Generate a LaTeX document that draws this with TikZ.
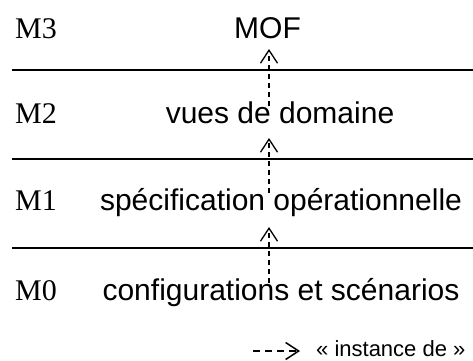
\documentclass[tikz,border=0pt]{standalone}
\usepackage{fontspec}
\setmainfont{Liberation Serif}
\setsansfont{Liberation Sans}
\usetikzlibrary{positioning, arrows.meta, calc}

\begin{document}
\begin{tikzpicture}[
    x=1pt, y=1pt,
    % Clean styles
    levelname/.style={
        anchor=base west,
        inner sep=0pt,
        font=\fontsize{30}{36}\selectfont
    },
    content/.style={
        anchor=base,
        inner sep=0pt,
        font=\sffamily\fontsize{30}{36}\selectfont
    },
    separator/.style={
        line width=1.4pt,
        black
    },
    instance/.style={
        -{Straight Barb[length=13pt, width=17pt]},
        line width=1.3pt,
        dash pattern=on 5pt off 4pt
    },
    note/.style={
        anchor=base west,
        inner sep=0pt,
        font=\sffamily\fontsize{22}{26}\selectfont
    }
]

\useasboundingbox (0,0) rectangle (473,-360);

% === Left: level names ===
\node[levelname] (m3) at (15,-38) {M3};
\node[levelname] (m2) at (15,-123) {M2};
\node[levelname] (m1) at (15,-210) {M1};
\node[levelname] (m0) at (15,-300) {M0};

% === Level contents ===
\node[content] (mof) at (267.5,-38) {MOF};
\node[content] (vues) at (280,-123) {vues de domaine};
\node[content] (spec) at (281,-210) {spécification opérationnelle};
\node[content] (conf) at (281,-300) {configurations et scénarios};

% === Separators ===
\foreach \y in {70,159,248}
    \draw[separator] (12,-\y) -- (473,-\y);

% === Instance arrows ===
\coordinate (axis) at (269,0);
\draw[instance] ($(vues.base -| axis)+(0,17)$) -- ($(mof.base -| axis)+(0,-11)$);
\draw[instance] ($(spec.base -| axis)+(0,17)$) -- ($(vues.base -| axis)+(0,-15)$);
\draw[instance] ($(conf.base -| axis)+(0,17)$) -- ($(spec.base -| axis)+(0,-17)$);

% === Legend ===
\node[note] (legend) at (316,-356) {« instance de »};
\coordinate (legtail) at (253,-351);
\coordinate (legtip) at (300,-351);
\draw[instance, dash pattern=on 7pt off 5pt, line width=1.5pt] (legtail) -- (legtip);

\end{tikzpicture}
\end{document}
